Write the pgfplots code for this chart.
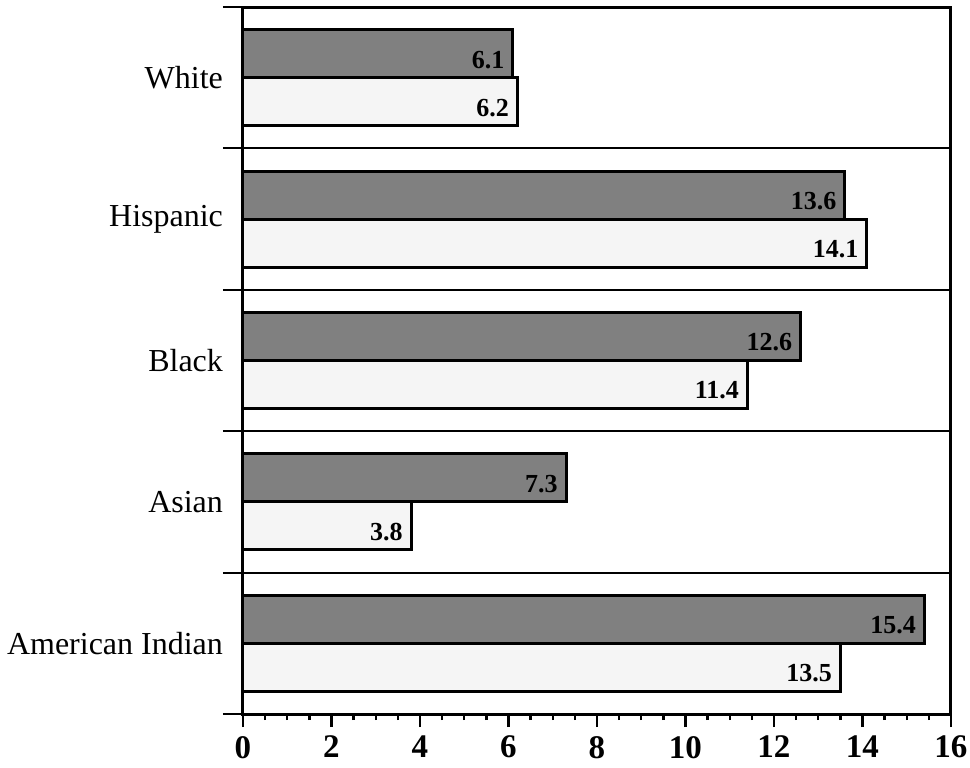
\documentclass[border=0pt]{standalone}
\usepackage{fontspec}
\setmainfont{Liberation Serif}
\usepackage{pgfplots}
\pgfplotsset{compat=1.18}
\tikzset{value label/.style={anchor=east, font=\fontsize{13}{13}\selectfont\bfseries, inner sep=1pt, xshift=-2.5pt}}

\begin{document}
\begin{tikzpicture}
\begin{axis}[
  name=ax,
  scale only axis,
  width=354pt, height=353.5pt,
  xmin=0, xmax=16, ymin=-0.5, ymax=4.5,
  axis line style={line width=1.5pt},
  xtick={0,2,...,16},
  minor x tick num=3,
  xtick pos=left,
  ytick pos=left,
  tick align=outside,
  major tick length=6.5pt, minor tick length=3pt,
  x tick style={line width=1.2pt, black},
  /pgf/number format/assume math mode=true,
  xticklabel style={font=\fontsize{16.5}{16.5}\selectfont\bfseries, yshift=-1pt},
  ytick={0,1,2,3,4},
  yticklabels={American Indian, Asian, Black, Hispanic, White},
  y tick style={draw=none},
  yticklabel style={font=\fontsize{16}{18}\selectfont, xshift=0pt},
  clip=false,
]
\pgfplotsinvokeforeach{-0.5,0.5,1.5,2.5,3.5,4.5}{
  \draw[line width=1pt] ([xshift=-10pt]axis cs:0,#1) -- (axis cs:16,#1);
}
% dark bars (upper)
\addplot[xbar, bar width=0.34, bar shift=0.17, fill=black!50, draw=black, line width=1.5pt,
  nodes near coords,
  every node near coord/.append style={value label, yshift=9pt}]
  coordinates {(15.4,0) (7.3,1) (12.6,2) (13.6,3) (6.1,4)};
% light bars (lower)
\addplot[xbar, bar width=0.34, bar shift=-0.17, fill=black!4, draw=black, line width=1.5pt,
  nodes near coords,
  every node near coord/.append style={value label, yshift=-15pt}]
  coordinates {(13.5,0) (3.8,1) (11.4,2) (14.1,3) (6.2,4)};
\end{axis}
\pgfresetboundingbox
\path ([shift={(-121.5pt,-26.5pt)}]ax.south west) rectangle ([shift={(363.5pt,357pt)}]ax.south west);
\end{tikzpicture}
\end{document}
